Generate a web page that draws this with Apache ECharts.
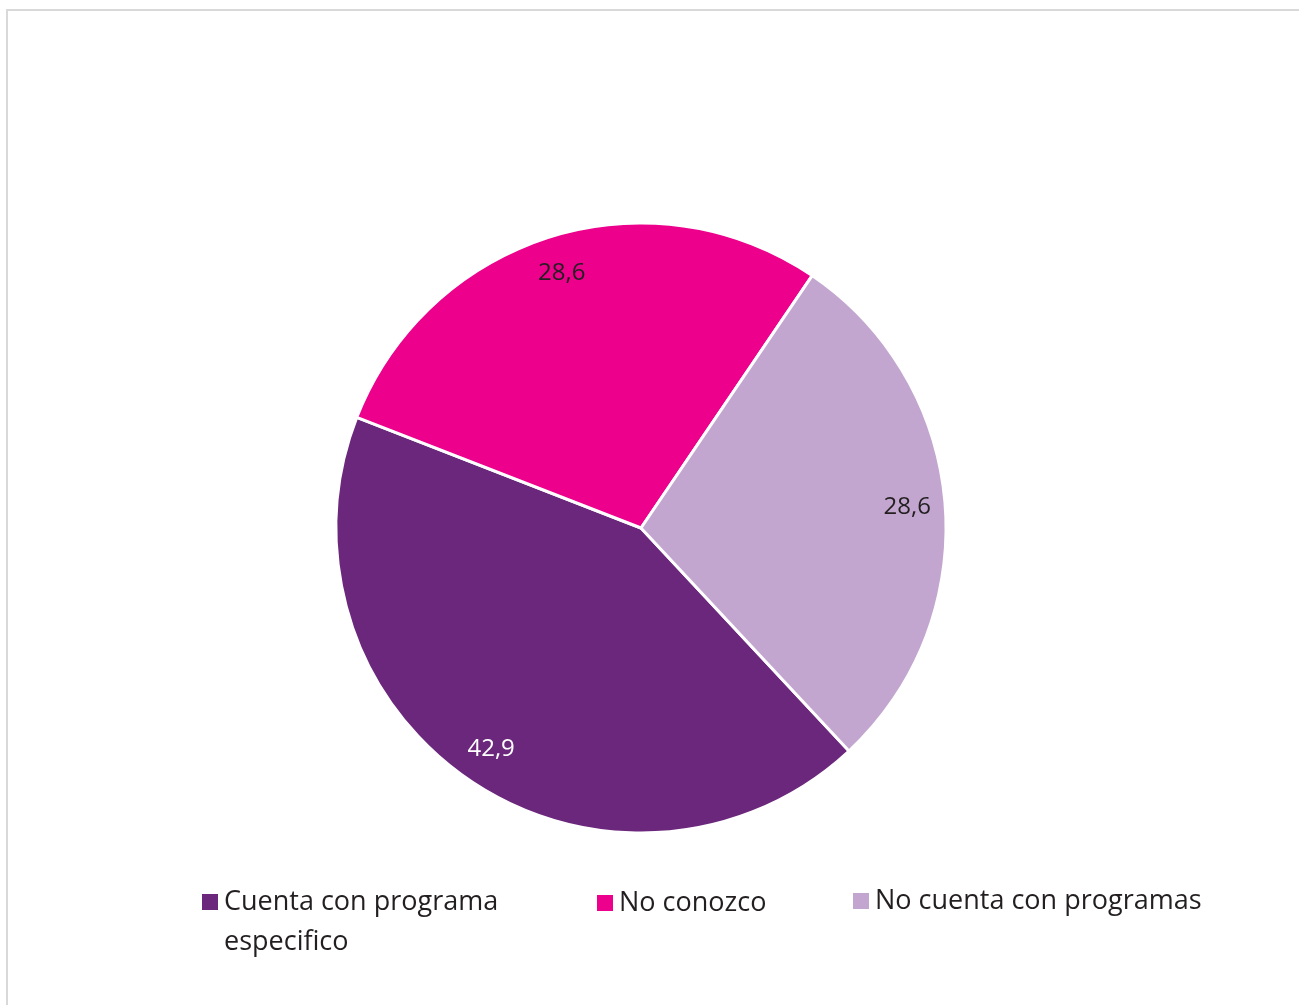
<!DOCTYPE html>
<html>
<head>
<meta charset="utf-8">
<script src="https://cdn.jsdelivr.net/npm/echarts@6/dist/echarts.min.js"></script>
<style>
  html, body { margin: 0; padding: 0; background: #fff; }
  #chart { width: 1299px; height: 1005px; }
</style>
</head>
<body>
<div id="chart"></div>
<script>
  // datos del gráfico
  var categorias = ['Cuenta con programa especifico', 'No conozco', 'No cuenta con programas']
  var valores = [42.9, 28.6, 28.6]
  var colores = ['#6b277c', '#ec008c', '#c3a6cf']
  var colorEtiqueta = ['#ffffff', '#231f20', '#231f20']

  var chart = echarts.init(document.getElementById('chart'))
  var fuente = '"Open Sans", "Noto Sans", sans-serif'

  var datos = []
  var datosEtiqueta = []
  for (var i = 0; i < categorias.length; i++) {
    datos.push({ name: categorias[i], value: valores[i], itemStyle: { color: colores[i] } })
    datosEtiqueta.push({
      name: categorias[i],
      value: valores[i],
      label: { color: colorEtiqueta[i] }
    })
  }

  function leyenda (idx, left, top, partida) {
    var l = {
      left: left,
      top: top,
      padding: 0,
      orient: 'horizontal',
      itemWidth: 18,
      itemHeight: 18,
      itemGap: 6,
      icon: 'rect',
      selectedMode: false,
      data: [{ name: categorias[idx], itemStyle: { color: colores[idx] } }],
      textStyle: { fontFamily: fuente, fontSize: 27, color: '#231f20', lineHeight: partida ? 40 : 32 }
    }
    if (partida) {
      // linea vacia arriba para que el cuadro quede junto a la primera linea
      l.formatter = function () { return '\nCuenta con programa\nespecifico' }
    }
    return l
  }

  var option = {
    backgroundColor: '#fff',
    animation: false,
    graphic: [{
      type: 'rect',
      shape: { x: 7, y: 10, width: 1400, height: 1100 },
      style: { fill: 'none', stroke: '#d9d9d9', lineWidth: 2 },
      silent: true
    }],
    legend: [
      leyenda(0, 200, 842, true),
      leyenda(1, 595, 887),
      leyenda(2, 851, 885)
    ],
    series: [
      {
        name: 'principal',
        type: 'pie',
        center: [641, 528],
        radius: [0, 305],
        startAngle: 313,
        clockwise: true,
        silent: true,
        itemStyle: { borderColor: '#fff', borderWidth: 3 },
        label: { show: false },
        labelLine: { show: false },
        data: datos
      },
      {
        name: 'etiquetas',
        type: 'pie',
        center: [641, 528],
        radius: [224, 304],
        startAngle: 313,
        clockwise: true,
        silent: true,
        itemStyle: { color: 'rgba(0,0,0,0)' },
        label: {
          show: true,
          position: 'inside',
          fontFamily: fuente,
          fontSize: 24,
          formatter: function (p) { return String(p.value).replace('.', ',') }
        },
        labelLine: { show: false },
        data: datosEtiqueta
      }
    ]
  }
  chart.setOption(option)
</script>
</body>
</html>
